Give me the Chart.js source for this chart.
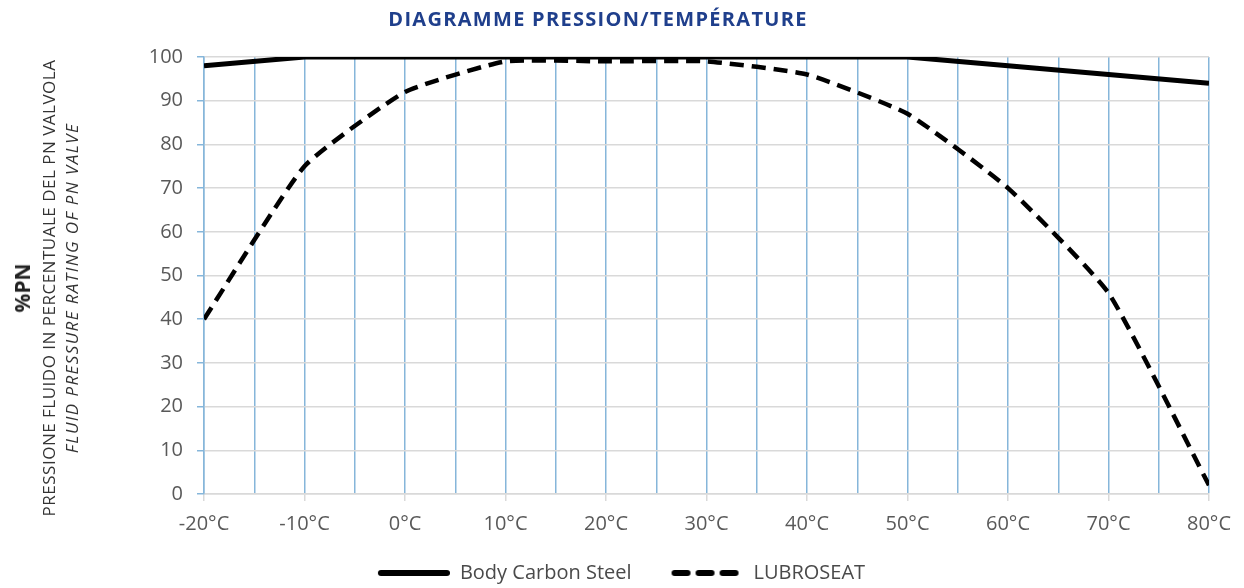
<!DOCTYPE html>
<html lang="fr">
<head>
    <meta charset="UTF-8">
    <title>Diagramme pression/température</title>
    <script src="https://cdn.jsdelivr.net/npm/chart.js"></script>
    <style>
        html, body {
            margin: 0;
            padding: 0;
            background: #fff;
        }
        #wrap {
            position: relative;
            width: 1244px;
            height: 588px;
        }
        .titolo {
            position: absolute;
            left: 598px;
            top: 18px;
            transform: translate(-50%, -50%);
            font-family: 'Open Sans', sans-serif;
            font-weight: 700;
            font-size: 20px;
            letter-spacing: 1.3px;
            color: #1f3f8c;
            white-space: nowrap;
        }
        .asse {
            position: absolute;
            top: 288px;
            transform: translate(-50%, -50%) rotate(-90deg);
            font-family: 'Open Sans', sans-serif;
            white-space: nowrap;
            color: #333;
        }
        #pn { left: 22px; font-weight: 700; font-size: 21px; color: #222; }
        #it { left: 48px; font-size: 17px; letter-spacing: 0.5px; }
        #en { left: 71px; font-size: 17px; font-style: italic; letter-spacing: 1.4px; }
        canvas { position: absolute; left: 0; top: 0; }
    </style>
</head>
<body>
<div id="wrap">
    <canvas id="grafico" width="1244" height="588"></canvas>
    <div class="titolo">DIAGRAMME PRESSION/TEMPÉRATURE</div>
    <div class="asse" id="pn">%PN</div>
    <div class="asse" id="it">PRESSIONE FLUIDO IN PERCENTUALE DEL PN VALVOLA</div>
    <div class="asse" id="en">FLUID PRESSURE RATING OF PN VALVE</div>
</div>

<script>
    const temperature = [-20, -10, 0, 10, 20, 30, 40, 50, 60, 70, 80];
    const bodyCarbonSteel = [98, 100, 100, 100, 100, 100, 100, 100, 98, 96, 94];
    const lubroseat = [40, 75, 92, 99, 99, 99, 96, 87, 70, 46, 2];
    const yTicks = [0, 10, 20, 30, 40, 50, 60, 70, 80, 90, 100];

    const blu = '#86b6da';
    const grigio = '#d9d9d9';
    const testo = '#595959';

    const punti = valori => temperature.map((t, i) => ({ x: t, y: valori[i] }));

    // piccola immagine per il simbolo della legenda (linea piena o tratteggiata)
    function simbolo(tratteggio) {
        const c = document.createElement('canvas');
        c.width = 106;
        c.height = 10;
        const g = c.getContext('2d');
        g.strokeStyle = '#000';
        g.lineWidth = 6;
        g.lineCap = 'round';
        g.setLineDash(tratteggio);
        g.beginPath();
        g.moveTo(37, 5);
        g.lineTo(103, 5);
        g.stroke();
        return c;
    }
    const simboli = [simbolo([]), simbolo([13, 11])];

    const ctx = document.getElementById('grafico').getContext('2d');
    new Chart(ctx, {
        type: 'line',
        data: {
            datasets: [{
                label: 'Body Carbon Steel',
                data: punti(bodyCarbonSteel),
                borderColor: '#000',
                backgroundColor: '#000',
                borderWidth: 5,
                pointRadius: 0,
                tension: 0
            }, {
                label: 'LUBROSEAT',
                data: punti(lubroseat),
                borderColor: '#000',
                backgroundColor: '#000',
                borderWidth: 4.5,
                borderDash: [14, 8],
                borderCapStyle: 'butt',
                pointRadius: 0,
                tension: 0.15
            }]
        },
        options: {
            responsive: false,
            animation: false,
            layout: { padding: { left: 0, right: 35, top: 57, bottom: -5 } },
            scales: {
                x: {
                    type: 'linear',
                    min: -20,
                    max: 80,
                    afterFit: s => { s.height = 63; },
                    ticks: {
                        stepSize: 5,
                        autoSkip: false,
                        maxRotation: 0,
                        padding: 11,
                        color: testo,
                        font: { family: 'Open Sans', size: 20 },
                        callback: v => (v % 10 === 0 ? v + '°C' : '')
                    },
                    grid: {
                        color: blu,
                        lineWidth: 1.5,
                        tickLength: 7,
                        tickColor: c => (c.tick && c.tick.value % 10 === 0 ? grigio : 'rgba(0,0,0,0)')
                    },
                    border: { color: grigio, width: 1.5 }
                },
                y: {
                    min: 0,
                    max: 100,
                    afterFit: s => { s.width = 204; },
                    afterBuildTicks: s => {
                        const tutti = [];
                        yTicks.forEach((v, i) => {
                            tutti.push({ value: v });
                            if (i < yTicks.length - 1) tutti.push({ value: v + 5 });
                        });
                        s.ticks = tutti;
                    },
                    ticks: {
                        padding: 14,
                        color: testo,
                        font: { family: 'Open Sans', size: 20 },
                        callback: v => (yTicks.includes(v) ? v : '')
                    },
                    grid: {
                        color: c => (c.tick && yTicks.includes(c.tick.value) ? grigio : 'rgba(0,0,0,0)'),
                        lineWidth: 1.5,
                        tickLength: 7,
                        tickColor: blu
                    },
                    border: { color: blu, width: 1.5 }
                }
            },
            plugins: {
                legend: {
                    position: 'bottom',
                    labels: {
                        usePointStyle: true,
                        pointStyleWidth: 106,
                        padding: 6,
                        color: '#4a4a4a',
                        font: { family: 'Open Sans', size: 20 },
                        generateLabels: chart => {
                            const voci = Chart.defaults.plugins.legend.labels.generateLabels(chart);
                            voci.forEach((v, i) => { v.pointStyle = simboli[i]; });
                            return voci;
                        }
                    }
                },
                tooltip: { enabled: false }
            }
        }
    });
</script>
</body>
</html>
